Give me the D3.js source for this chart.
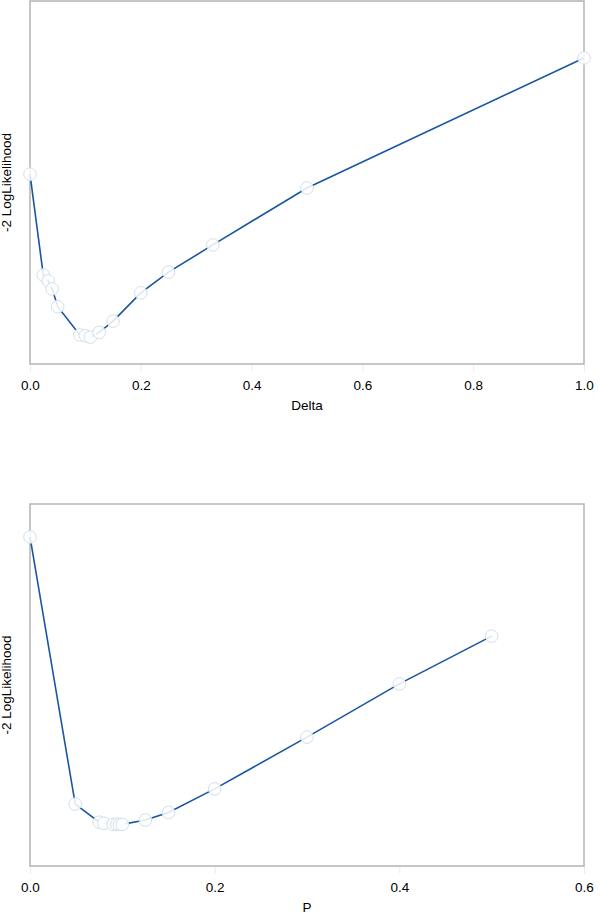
<!DOCTYPE html>
<html>
<head>
<meta charset="utf-8">
<script src="https://cdn.jsdelivr.net/npm/d3@7"></script>
<style>
  html, body { margin: 0; padding: 0; background: #fff; }
  svg { display: block; font-family: "Liberation Sans", Arial, Helvetica, sans-serif; }
</style>
</head>
<body>
<svg id="chart" width="600" height="916"></svg>
<script>
// Top chart: Delta vs -2 LogLikelihood
const deltaX = [0, 0.024, 0.033, 0.040, 0.050, 0.090, 0.100, 0.109, 0.125, 0.150, 0.200, 0.250, 0.330, 0.500, 1.000];
const deltaY = [1052.3, 1024.5, 1022.9, 1020.7, 1015.8, 1008.0, 1007.8, 1007.4, 1008.7, 1011.8, 1019.6, 1025.3, 1032.8, 1048.5, 1084.3];
const deltaTicks = [0, 0.2, 0.4, 0.6, 0.8, 1.0];

// Bottom chart: P vs -2 LogLikelihood
const pX = [0, 0.049, 0.075, 0.080, 0.090, 0.094, 0.097, 0.100, 0.125, 0.150, 0.200, 0.300, 0.400, 0.500];
const pY = [1090.9, 1017.1, 1012.1, 1011.8, 1011.5, 1011.5, 1011.5, 1011.5, 1012.7, 1014.8, 1021.3, 1035.6, 1050.3, 1063.5];
const pTicks = [0, 0.2, 0.4, 0.6];

const svg = d3.select("#chart");

function panel(cfg) {
  const g = svg.append("g");
  const x = d3.scaleLinear().domain(cfg.xDomain).range([cfg.left, cfg.right]);
  const y = d3.scaleLinear().domain(cfg.yDomain).range([cfg.bottom, cfg.top]);

  const axis = d3.axisBottom(x).tickValues(cfg.ticks).tickFormat(d3.format(".1f")).tickSize(8).tickPadding(8);
  const ag = g.append("g").attr("transform", `translate(0,${cfg.bottom})`).call(axis);
  ag.select(".domain").remove();
  ag.selectAll(".tick line").attr("stroke", "#ececec").attr("stroke-width", 1);
  ag.selectAll(".tick text").attr("fill", "#000").style("font-size", "13.5px")
    .style("font-family", "'Liberation Sans', Arial, sans-serif");

  g.append("rect")
    .attr("x", cfg.left).attr("y", cfg.top)
    .attr("width", cfg.right - cfg.left).attr("height", cfg.bottom - cfg.top)
    .attr("fill", "none").attr("stroke", "#b4b4b4").attr("stroke-width", 1.5);

  const data = cfg.xs.map((d, i) => [d, cfg.ys[i]]);
  const line = d3.line().x(d => x(d[0])).y(d => y(d[1]));
  g.append("path").datum(data).attr("d", line)
    .attr("fill", "none").attr("stroke", "#1a56a0").attr("stroke-width", 1.6);

  g.selectAll("circle.pt").data(data).join("circle")
    .attr("class", "pt")
    .attr("cx", d => x(d[0])).attr("cy", d => y(d[1])).attr("r", 6.3)
    .attr("fill", "#fff").attr("fill-opacity", 0.85)
    .attr("stroke", "#d2dfeb").attr("stroke-width", 1);

  g.append("text").attr("x", (cfg.left + cfg.right) / 2).attr("y", cfg.bottom + 46)
    .attr("text-anchor", "middle").style("font-size", "13.5px").text(cfg.xLabel);
  g.append("text")
    .attr("transform", `translate(11,${(cfg.top + cfg.bottom) / 2}) rotate(-90)`)
    .attr("text-anchor", "middle").style("font-size", "13.5px").text("-2 LogLikelihood");
}

panel({ xs: deltaX, ys: deltaY, xDomain: [0, 1], yDomain: [1000, 1100], ticks: deltaTicks,
  left: 30, right: 584, top: 1, bottom: 364, xLabel: "Delta" });
panel({ xs: pX, ys: pY, xDomain: [0, 0.6], yDomain: [1000, 1100], ticks: pTicks,
  left: 30, right: 584, top: 504, bottom: 866, xLabel: "P" });
</script>
</body>
</html>
